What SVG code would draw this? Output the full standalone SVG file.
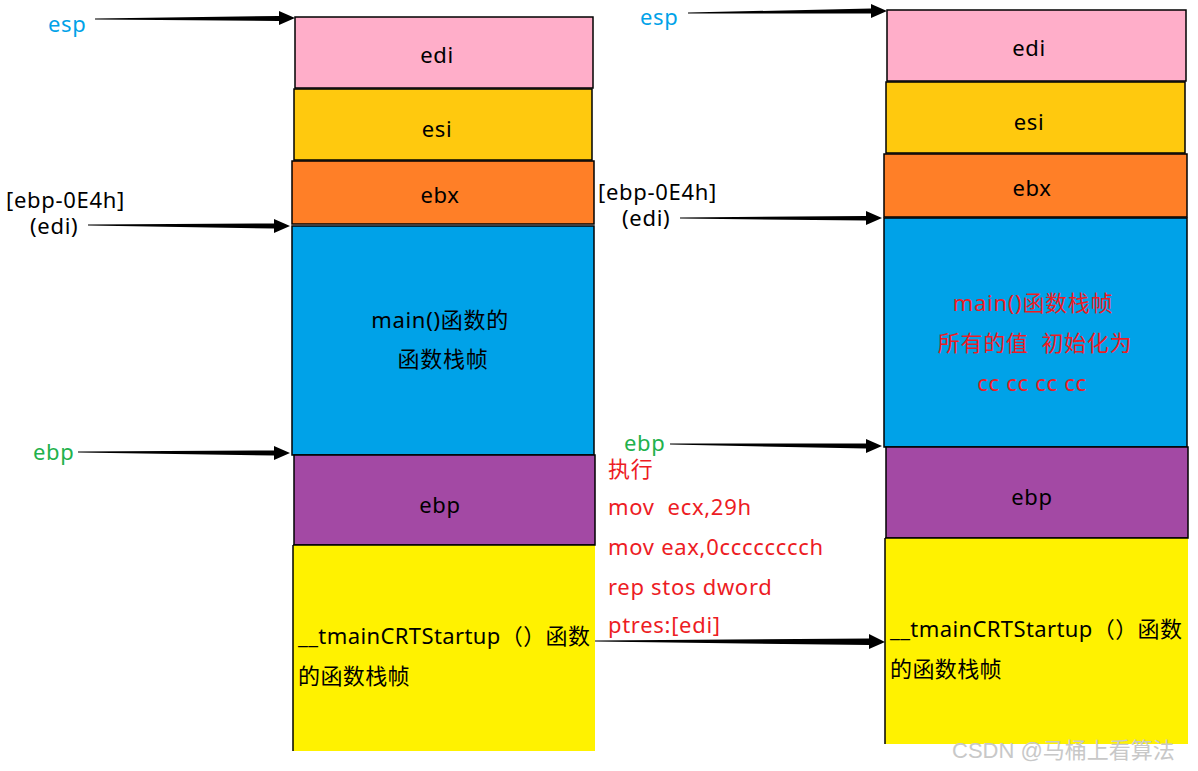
<svg xmlns="http://www.w3.org/2000/svg" width="1198" height="771" viewBox="0 0 1198 771">
<style>
text{font-family:"Noto Sans","Noto Sans CJK SC",sans-serif;font-size:22px;letter-spacing:0.7px;}
.box{stroke:#000;stroke-width:1.5;}
.lbl{fill:#000;text-anchor:middle;}
.esp{fill:#00a2e8;}
.ebpl{fill:#22b14c;}
.red{fill:#ed1c24;}
.arr{fill:#000;}
.crt{letter-spacing:0.4px;}
.wm{fill:#c8c8c8;font-size:22px;letter-spacing:0px;font-family:"Liberation Sans","Noto Sans CJK SC",sans-serif;}
</style>
<rect width="1198" height="771" fill="#fff"/>
<g id="left-stack">
<g id="l-edi"><rect class="box" x="295" y="17" width="298" height="71" fill="#ffaec9"/><text class="lbl" x="437" y="63">edi</text></g>
<g id="l-esi"><rect class="box" x="294" y="89" width="298" height="71" fill="#ffc90e"/><text class="lbl" x="437" y="137">esi</text></g>
<g id="l-ebx"><rect class="box" x="292" y="161" width="302" height="63" fill="#ff7f27"/><text class="lbl" x="440" y="203">ebx</text></g>
<g id="l-main"><rect class="box" x="292" y="226" width="302" height="229" fill="#00a2e8"/><text class="lbl" x="440" y="328">main()函数的</text><text class="lbl" x="443" y="367">函数栈帧</text></g>
<g id="l-ebp"><rect class="box" x="294" y="455" width="301" height="90" fill="#a349a4"/><text class="lbl" x="440" y="513">ebp</text></g>
<g id="l-crt"><rect x="293" y="545" width="302" height="206" fill="#fff200"/><line x1="293" y1="545" x2="293" y2="751" stroke="#000" stroke-width="1.5"/><line x1="293" y1="545" x2="595" y2="545" stroke="#000" stroke-width="1.5"/><text class="crt" x="298" y="644">__tmainCRTStartup（）函数</text><text class="crt" x="298" y="684">的函数栈帧</text></g>
</g>
<g id="right-stack">
<g id="r-edi"><rect class="box" x="887" y="10" width="299" height="71" fill="#ffaec9"/><text class="lbl" x="1029" y="56">edi</text></g>
<g id="r-esi"><rect class="box" x="886" y="82" width="299" height="71" fill="#ffc90e"/><text class="lbl" x="1029" y="130">esi</text></g>
<g id="r-ebx"><rect class="box" x="884" y="154" width="303" height="63" fill="#ff7f27"/><text class="lbl" x="1032" y="196">ebx</text></g>
<g id="r-main"><rect class="box" x="884" y="218" width="303" height="229" fill="#00a2e8"/><text class="lbl red" x="1033" y="311">main()函数栈帧</text><text class="lbl red" x="1035" y="351" xml:space="preserve">所有的值  初始化为</text><text class="lbl red" x="1032" y="391">cc cc cc cc</text></g>
<g id="r-ebp"><rect class="box" x="886" y="447" width="302" height="91" fill="#a349a4"/><text class="lbl" x="1032" y="505">ebp</text></g>
<g id="r-crt"><rect x="885" y="538" width="303" height="206" fill="#fff200"/><line x1="885" y1="538" x2="885" y2="744" stroke="#000" stroke-width="1.5"/><line x1="885" y1="538" x2="1188" y2="538" stroke="#000" stroke-width="1.5"/><text class="crt" x="890" y="637">__tmainCRTStartup（）函数</text><text class="crt" x="890" y="677">的函数栈帧</text></g>
</g>
<g id="labels">
<text class="esp" x="48" y="32">esp</text>
<text><tspan x="6" y="208">[ebp-0E4h]</tspan><tspan x="30" y="234">(edi)</tspan></text>
<text class="ebpl" x="33" y="460">ebp</text>
<text class="esp" x="640" y="25">esp</text>
<text><tspan x="598" y="200">[ebp-0E4h]</tspan><tspan x="622" y="226">(edi)</tspan></text>
<text class="ebpl" x="624" y="451">ebp</text>
<text class="red" x="608" y="477">执行</text>
<text class="red" x="608" y="515" xml:space="preserve">mov  ecx,29h</text>
<text class="red" x="608" y="555">mov eax,0cccccccch</text>
<text class="red" x="608" y="595">rep stos dword</text>
<text class="red" x="608" y="633">ptres:[edi]</text>
</g>
<g id="connectors">
<polygon class="arr" points="95,18.5 279,16 279,11 295,18 279,25 279,21 95,19.5"/>
<polygon class="arr" points="88,224.5 274,223.5 274,219 290,226 274,233 274,228.5 88,225.5"/>
<polygon class="arr" points="78,451.5 274,450.5 274,446 290,453 274,460 274,455.5 78,452.5"/>
<polygon class="arr" points="688,12.5 871,8.5 871,4 887,11 871,18 871,13.5 688,13.5"/>
<polygon class="arr" points="680,217.5 866,216 866,211 882,218 866,225 866,220.5 680,218.5"/>
<polygon class="arr" points="670,443.5 866,443.5 866,439 882,446 866,453 866,448.5 670,444.5"/>
<polygon class="arr" points="595,640.5 869,638.5 869,634 885,642 869,649 869,645 595,641.5"/>
</g>
<text class="wm" x="952" y="758">CSDN @马桶上看算法</text>
</svg>
